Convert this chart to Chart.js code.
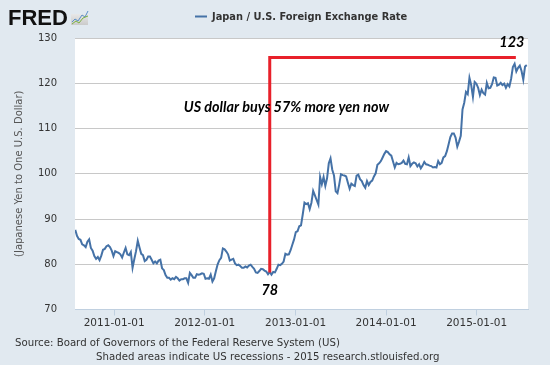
<!DOCTYPE html>
<html>
<head>
<meta charset="utf-8">
<script src="https://cdn.jsdelivr.net/npm/chart.js@4/dist/chart.umd.min.js"></script>
<style>
  html, body { margin: 0; padding: 0; background: #e1e9f0; }
  canvas { display: block; }
</style>
</head>
<body>
<canvas id="c" width="550" height="365"></canvas>
<script>
// ---- Data ----
const seriesLabel = 'Japan / U.S. Foreign Exchange Rate';
const firstWeek = '2010-07-28';   // weekly observations (Wednesdays)
const yenPerDollar = [
  // 2010 (from late July)
  87.6, 86.3, 85.6, 85.4, 84.4, 84.2, 83.8, 85.0, 85.5, 83.6, 83.0, 81.8, 81.2, 81.6, 80.9, 81.9,
  83.2, 83.4, 84.0, 84.2, 83.8, 83.0, 81.8,
  // 2011
  82.9, 82.7, 82.5, 82.2, 81.5, 82.6, 83.6, 82.2, 82.0, 82.7, 79.2, 81.1, 82.9, 85.2, 83.7, 82.3,
  82.0, 80.7, 81.0, 81.7, 81.7, 81.0, 80.2, 80.6, 80.2, 80.8, 81.0, 79.1, 78.7, 77.6, 77.0, 77.0,
  76.6, 76.9, 76.7, 77.2, 76.9, 76.4, 76.7, 76.7, 76.9, 76.9, 75.9, 78.1, 77.6, 77.0, 77.0, 77.8,
  77.7, 77.8, 78.0, 77.9,
  // 2012
  76.8, 76.9, 76.8, 77.7, 76.2, 76.9, 78.5, 80.0, 80.9, 81.4, 83.5, 83.3, 82.8, 82.2, 80.8, 81.0,
  81.2, 80.2, 79.8, 79.9, 79.6, 79.2, 79.2, 79.5, 79.3, 79.7, 79.9, 79.4, 79.0, 78.2, 78.1, 78.5,
  79.0, 78.9, 78.6, 78.4, 77.8, 78.3, 77.7, 78.3, 78.2, 79.0, 79.9, 79.8, 80.1, 80.6, 82.3, 82.1,
  82.2, 83.1, 84.3, 85.5,
  // 2013
  87.1, 87.3, 88.4, 88.6, 91.0, 93.6, 93.3, 93.5, 92.2, 93.6, 96.2, 95.2, 94.2, 93.2, 99.3, 97.7,
  99.3, 97.3, 99.0, 102.3, 103.4, 100.9, 99.6, 96.1, 95.7, 97.6, 99.9, 99.7, 99.6, 99.4, 98.0, 96.7,
  97.8, 97.5, 97.3, 99.6, 99.8, 98.8, 98.4, 97.5, 96.9, 98.4, 97.5, 98.2, 98.5, 99.4, 100.1, 102.0,
  102.3, 102.8, 103.6, 104.4,
  // 2014
  105.0, 104.8, 104.3, 104.0, 102.7, 101.4, 102.4, 102.1, 102.2, 102.4, 102.9, 102.2, 102.1, 103.6, 101.7, 102.2,
  102.5, 102.3, 101.6, 102.1, 101.2, 101.8, 102.6, 102.1, 102.0, 101.8, 101.7, 101.4, 101.5, 101.4, 102.8, 102.1,
  102.4, 103.6, 103.9, 105.0, 106.5, 108.1, 108.9, 108.9, 108.0, 106.0, 107.1, 108.4, 114.2, 115.7, 118.1, 117.6,
  121.2, 119.6, 117.0, 120.3, 119.9,
  // 2015 (to late July)
  119.0, 117.4, 118.6, 117.8, 117.5, 120.1, 118.9, 119.0, 119.8, 121.3, 121.2, 119.5, 119.7, 120.1, 119.6, 119.9,
  119.0, 119.8, 119.3, 121.0, 123.6, 124.3, 122.6, 123.4, 123.9, 122.7, 120.8, 123.7, 124.0
];
const xRange = ['2010-07-27', '2015-07-27'];
const yearTickDates = ['2011-01-01', '2012-01-01', '2013-01-01', '2014-01-01', '2015-01-01'];
const yMin = 70, yMax = 130, yStep = 10;
const yAxisTitle = '(Japanese Yen to One U.S. Dollar)';
const sourceText = 'Source: Board of Governors of the Federal Reserve System (US)';
const shadedText = 'Shaded areas indicate US recessions - 2015 research.stlouisfed.org';
// annotation (data coordinates)
const lowPoint = { date: '2012-09-19', value: 78.2, label: '78' };
const highLevel = { date: '2015-06-08', value: 125.7, label: '123' };
const annotationText = 'US dollar buys 57% more yen now';

// ---- Build ----
const DAY = 86400000;
const t0 = Date.parse(firstWeek);
const points = yenPerDollar.map((v, i) => ({ x: t0 + i * 7 * DAY, y: v }));

Chart.defaults.font.family = 'DejaVu Sans';
Chart.defaults.color = '#333';

const decor = {
  id: 'decor',
  beforeDraw(chart) {
    const { ctx, chartArea: a } = chart;
    ctx.save();
    ctx.fillStyle = '#e1e9f0';
    ctx.fillRect(0, 0, chart.width, chart.height);
    ctx.fillStyle = '#ffffff';
    ctx.fillRect(a.left, a.top, a.right - a.left, a.bottom - a.top);
    ctx.restore();
  },
  afterDatasetsDraw(chart) {
    const { ctx, scales: { x, y } } = chart;
    const xl = x.getPixelForValue(Date.parse(lowPoint.date));
    const xh = x.getPixelForValue(Date.parse(highLevel.date));
    const yl = y.getPixelForValue(lowPoint.value);
    const yh = y.getPixelForValue(highLevel.value);
    ctx.save();
    ctx.strokeStyle = '#e8202a';
    ctx.lineWidth = 3;
    ctx.lineCap = 'butt';
    ctx.beginPath();
    ctx.moveTo(xl, yl);
    ctx.lineTo(xl, yh - 1.5);
    ctx.moveTo(xl - 1.5, yh);
    ctx.lineTo(xh, yh);
    ctx.stroke();
    ctx.fillStyle = '#000';
    ctx.font = 'italic bold 14.4px Lato';
    ctx.textAlign = 'center';
    ctx.textBaseline = 'alphabetic';
    ctx.fillText(lowPoint.label, xl, yl + 23);
    ctx.fillText(highLevel.label, xh - 4, yh - 10);
    ctx.textAlign = 'left';
    ctx.fillText(annotationText, xl - 86, yh + 55);
    ctx.restore();
  },
  afterDraw(chart) {
    const { ctx, chartArea: a } = chart;
    ctx.save();
    // FRED logo
    ctx.fillStyle = '#111';
    ctx.font = 'bold 22px "Liberation Sans"';
    ctx.textBaseline = 'alphabetic';
    ctx.textAlign = 'left';
    ctx.fillText('FRED', 8, 25);
    // small logo icon
    const g = ctx.createLinearGradient(0, 10, 0, 26);
    g.addColorStop(0, '#f2f2f2');
    g.addColorStop(1, '#c8c8c8');
    ctx.fillStyle = g;
    ctx.fillRect(71, 14, 17, 11);
    ctx.lineWidth = 1;
    ctx.strokeStyle = '#5a8fc8';
    ctx.beginPath();
    ctx.moveTo(72, 22); ctx.lineTo(75, 19); ctx.lineTo(78, 21); ctx.lineTo(82, 15); ctx.lineTo(85, 17); ctx.lineTo(88, 11);
    ctx.stroke();
    ctx.strokeStyle = '#7cb342';
    ctx.beginPath();
    ctx.moveTo(72, 24); ctx.lineTo(76, 21); ctx.lineTo(79, 23); ctx.lineTo(83, 18); ctx.lineTo(88, 16);
    ctx.stroke();
    // legend
    ctx.strokeStyle = '#4572a7';
    ctx.lineWidth = 2;
    ctx.beginPath();
    ctx.moveTo(195, 16.5); ctx.lineTo(207, 16.5);
    ctx.stroke();
    ctx.fillStyle = '#333';
    ctx.font = 'bold 9.85px "DejaVu Sans"';
    ctx.textBaseline = 'middle';
    ctx.fillText(seriesLabel, 212, 17);
    // y-axis title
    ctx.save();
    ctx.translate(19, (a.top + a.bottom) / 2);
    ctx.rotate(-Math.PI / 2);
    ctx.textAlign = 'center';
    ctx.fillStyle = '#555';
    ctx.font = '10px "DejaVu Sans"';
    ctx.fillText(yAxisTitle, 0, 0);
    ctx.restore();
    // footer
    ctx.fillStyle = '#333';
    ctx.font = '10.2px "DejaVu Sans"';
    ctx.textAlign = 'left';
    ctx.fillText(sourceText, 15, 343);
    ctx.fillText(shadedText, 96, 357.5);
    ctx.restore();
  }
};

new Chart(document.getElementById('c'), {
  type: 'line',
  data: {
    datasets: [{
      label: seriesLabel,
      data: points,
      borderColor: '#4572a7',
      borderWidth: 2,
      pointRadius: 0,
      tension: 0,
      fill: false
    }]
  },
  options: {
    responsive: false,
    animation: false,
    layout: { padding: { top: 38, right: 22, bottom: 0, left: 0 } },
    plugins: { legend: { display: false }, tooltip: { enabled: false } },
    scales: {
      x: {
        type: 'linear',
        min: Date.parse(xRange[0]),
        max: Date.parse(xRange[1]),
        afterBuildTicks(scale) {
          scale.ticks = yearTickDates.map(d => ({ value: Date.parse(d) }));
        },
        afterFit(scale) { scale.height = 55.5; },
        ticks: {
          autoSkip: false,
          maxRotation: 0,
          padding: 1,
          color: '#333',
          font: { size: 10.5 },
          callback: v => new Date(v).toISOString().slice(0, 10)
        },
        grid: { drawOnChartArea: false, drawTicks: true, tickLength: 6, color: '#c0d0e0' },
        border: { display: true, color: '#c0d0e0', width: 1 }
      },
      y: {
        min: yMin,
        max: yMax,
        afterFit(scale) { scale.width = 75; },
        ticks: { stepSize: yStep, padding: 18, color: '#333', font: { size: 10 } },
        grid: { drawTicks: false, color: '#c8c8c8' },
        border: { display: false }
      }
    }
  },
  plugins: [decor]
});
</script>
</body>
</html>
